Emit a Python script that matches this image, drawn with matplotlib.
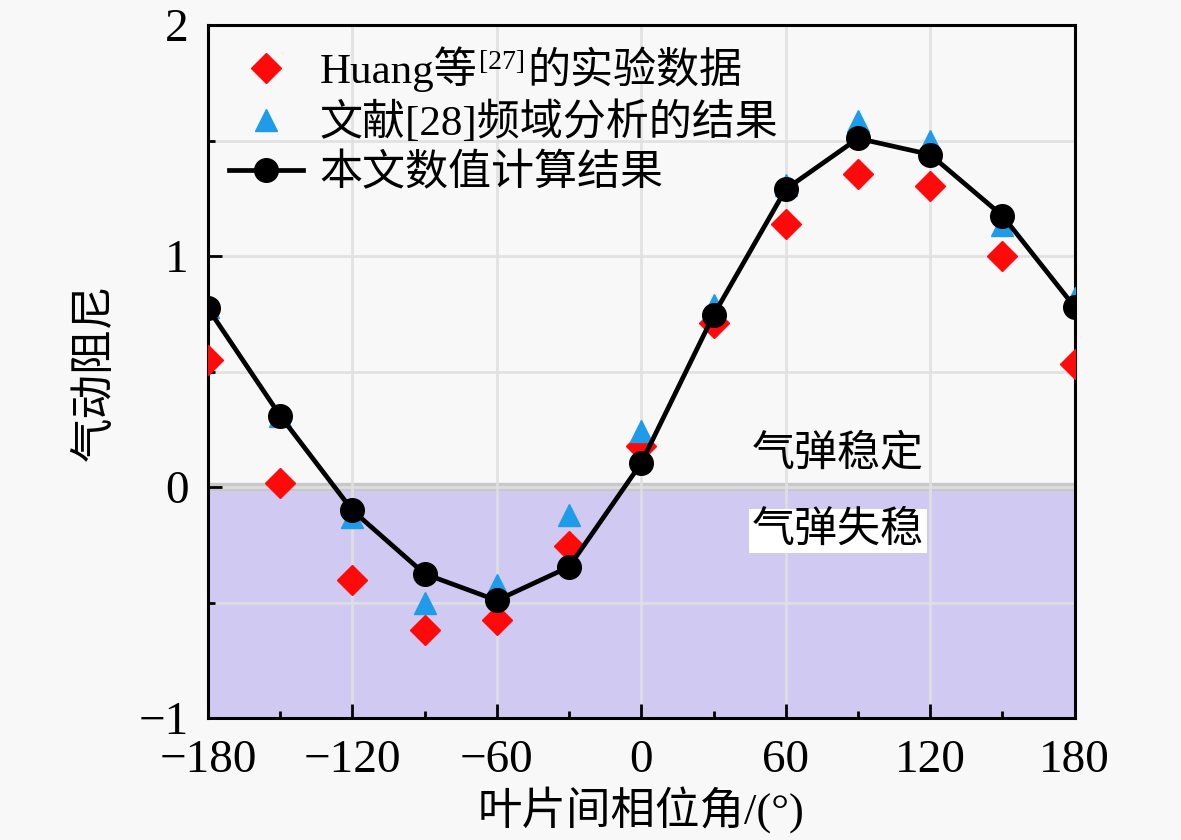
import numpy as np
import matplotlib
matplotlib.use("Agg")
from matplotlib import pyplot as plt
from matplotlib.ticker import MultipleLocator

plt.rcParams['font.family'] = ['Liberation Serif', 'Noto Sans CJK SC']
plt.rcParams['axes.unicode_minus'] = True

# phase angle between blades (deg)
phase = [-180, -150, -120, -90, -60, -30, 0, 30, 60, 90, 120, 150, 180]

# Huang et al. experiment
huang = [0.55, 0.02, -0.40, -0.62, -0.575, -0.255, 0.18, 0.71, 1.14, 1.355, 1.305, 1.0, 0.535]
# ref [28] frequency domain result
freq = [0.78, 0.31, -0.13, -0.50, -0.425, -0.12, 0.245, 0.79, 1.31, 1.585, 1.50, 1.135, 0.82]
# present numerical result
calc = [0.775, 0.31, -0.10, -0.375, -0.49, -0.345, 0.105, 0.745, 1.29, 1.51, 1.44, 1.175, 0.78]

fig = plt.figure(figsize=(11.81, 8.4), dpi=100, facecolor='#f8f8f8')
ax = fig.add_axes([0.176, 0.145, 0.734, 0.825], facecolor='#f8f8f8')

ax.axhspan(-1, 0, color='#d0caf2', zorder=0.5, lw=0)
ax.axhline(0, color='#c8c8c8', lw=6, zorder=0.6)
ax.grid(True, color='#e0e0e0', lw=2, alpha=0.9)

ax.plot(phase, huang, ls='none', marker='D', ms=15, color='#ff0a0a',
        label='Huang等', zorder=3)
ax.plot(phase, freq, ls='none', marker='^', ms=16, color='#1e9be9',
        label='文献[28]频域分析的结果', zorder=3)
ax.plot(phase, calc, color='black', lw=3.4, marker='o', ms=17,
        label='本文数值计算结果', zorder=4)

ax.text(46, 0.14, '气弹稳定', fontsize=31, va='center', zorder=5)
ax.text(46, -0.19, '气弹失稳', fontsize=31, va='center', zorder=5,
        bbox=dict(facecolor='white', edgecolor='none', pad=2))

ax.set_xlim(-180, 180)
ax.set_ylim(-1, 2)
ax.xaxis.set_major_locator(MultipleLocator(60))
ax.xaxis.set_minor_locator(MultipleLocator(30))
ax.yaxis.set_major_locator(MultipleLocator(1))
ax.yaxis.set_minor_locator(MultipleLocator(0.5))
ax.grid(True, which='minor', axis='y', color='#e0e0e0', lw=2, alpha=0.9)
ax.tick_params(which='both', direction='in', labelsize=34, width=2)
ax.tick_params(which='major', length=10)
ax.tick_params(axis='x', which='major', pad=15)
ax.tick_params(axis='y', which='major', pad=14)
ax.tick_params(which='minor', length=5)
for s in ax.spines.values():
    s.set_linewidth(2.2)

ax.set_xlabel('叶片间相位角/(°)', fontsize=32, labelpad=4)
ax.set_ylabel('气动阻尼', fontsize=32, labelpad=16)

leg = ax.legend(loc='upper left', frameon=False, fontsize=31, handlelength=1.7,
                handletextpad=0.4, labelspacing=0.22, borderaxespad=0.1,
                bbox_to_anchor=(0.0, 1.0))

# superscript [27] and the rest of the first legend label
fig.canvas.draw()
inv = fig.transFigure.inverted()
bb = leg.get_texts()[0].get_window_extent()
x1, y1 = inv.transform((bb.x1, bb.y0))
x2, y2 = inv.transform((bb.x1, bb.y1))
sup = fig.text(x1 + 0.001, y2 - 0.004, '[27]', fontsize=20, va='top', ha='left')
fig.canvas.draw()
xs, _ = inv.transform((sup.get_window_extent().x1, 0))
fig.text(xs + 0.002, y1, '的实验数据', fontsize=31, va='bottom', ha='left')

fig.savefig('out.png', dpi=100, facecolor=fig.get_facecolor())
